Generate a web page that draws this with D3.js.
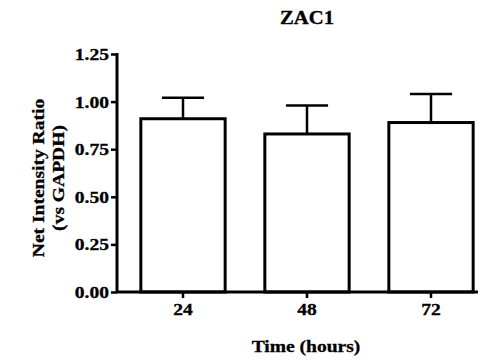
<!DOCTYPE html>
<html>
<head>
<meta charset="utf-8">
<script src="https://cdn.jsdelivr.net/npm/d3@7"></script>
<style>
  body { margin: 0; background: #fff; }
  svg text { font-family: "Liberation Serif", "Times New Roman", serif; font-weight: bold; fill: #000; stroke: #000; stroke-width: 0.3px; }
  .wide { transform-box: fill-box; transform-origin: center; transform: scaleX(1.15); }
  .wide-end { transform-box: fill-box; transform-origin: right center; transform: scaleX(1.15); }
</style>
</head>
<body>
<svg id="chart" width="482" height="361"></svg>
<script>
const categories = ['24', '48', '72']
const means = [0.91, 0.83, 0.89]
const errors = [0.11, 0.15, 0.15]
const yTicks = [0, 0.25, 0.5, 0.75, 1.0, 1.25]

const svg = d3.select('#chart')

const y = d3.scaleLinear().domain([0, 1.25]).range([292, 54])
const x = d3.scaleBand().domain(categories).range([121, 493]).paddingInner(0.32).paddingOuter(0.16)

// bars
svg.append('g')
  .selectAll('rect')
  .data(categories)
  .join('rect')
  .attr('x', d => x(d))
  .attr('y', (d, i) => y(means[i]))
  .attr('width', x.bandwidth())
  .attr('height', (d, i) => y(0) - y(means[i]))
  .attr('fill', '#fff')
  .attr('stroke', '#000')
  .attr('stroke-width', 3)

// error bars (upper only)
const eb = svg.append('g').attr('stroke', '#000').attr('stroke-width', 2.5)
categories.forEach((c, i) => {
  const cx = x(c) + x.bandwidth() / 2
  eb.append('line')
    .attr('x1', cx).attr('x2', cx)
    .attr('y1', y(means[i])).attr('y2', y(means[i] + errors[i]))
  eb.append('line')
    .attr('x1', cx - x.bandwidth() / 4).attr('x2', cx + x.bandwidth() / 4)
    .attr('y1', y(means[i] + errors[i])).attr('y2', y(means[i] + errors[i]))
})

// y axis
const yAxis = svg.append('g')
  .attr('transform', 'translate(117,0)')
  .call(d3.axisLeft(y).tickValues(yTicks).tickFormat(d3.format('.2f')).tickSize(6).tickPadding(2))
yAxis.select('.domain').attr('stroke-width', 3).attr('d', `M0,${y(1.25) - 1}V${y(0) + 1}`)
yAxis.selectAll('.tick line').attr('stroke-width', 2.5)
yAxis.selectAll('.tick text').attr('font-size', 17).attr('font-family', null).attr('class', 'wide-end')

// x axis
const xAxis = svg.append('g')
  .attr('transform', `translate(0,${y(0)})`)
  .call(d3.axisBottom(x).tickSize(6).tickPadding(5))
xAxis.select('.domain').attr('stroke-width', 3).attr('d', 'M117,0H478')
xAxis.selectAll('.tick line').attr('stroke-width', 2.5)
xAxis.selectAll('.tick text').attr('font-size', 17).attr('font-family', null).attr('class', 'wide')

// title and axis labels
svg.append('text')
  .attr('class', 'wide')
  .attr('x', 307).attr('y', 24)
  .attr('text-anchor', 'middle')
  .attr('font-size', 18)
  .text('ZAC1')

svg.append('text')
  .attr('class', 'wide')
  .attr('x', 306).attr('y', 352)
  .attr('text-anchor', 'middle')
  .attr('font-size', 17)
  .text('Time (hours)')

const yl = svg.append('g').attr('transform', 'translate(44,178) rotate(-90)')
yl.append('text')
  .attr('class', 'wide')
  .attr('text-anchor', 'middle')
  .attr('font-size', 17)
  .text('Net Intensity Ratio')
yl.append('text')
  .attr('class', 'wide')
  .attr('y', 20)
  .attr('text-anchor', 'middle')
  .attr('font-size', 17)
  .text('(vs GAPDH)')
</script>
</body>
</html>
